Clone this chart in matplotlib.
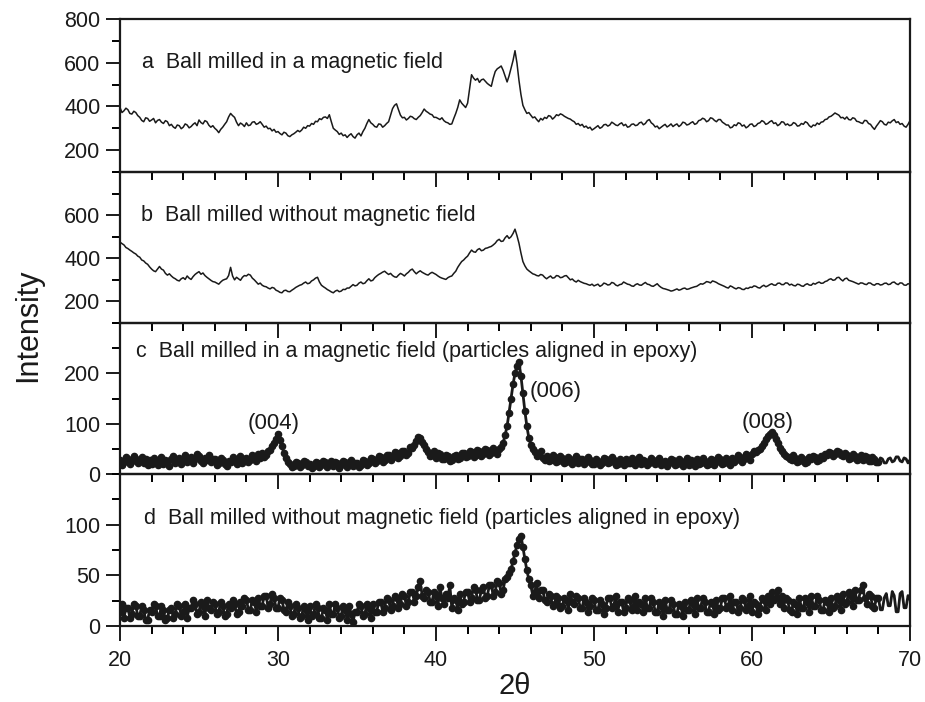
import numpy as np
import matplotlib.pyplot as plt
from matplotlib.ticker import MultipleLocator

plt.rcParams['font.family'] = ['Liberation Sans', 'DejaVu Sans']

# 2-theta sampling grid, 0.125 deg steps from 20 to 70 (one row = one degree)
two_theta = np.arange(20, 70.0001, 0.125)

# a: ball milled in a magnetic field
int_a = [
    395, 372, 380, 392, 385, 368, 365, 378,
    372, 358, 350, 336, 330, 348, 345, 332,
    338, 345, 325, 336, 340, 328, 322, 335,
    330, 312, 318, 306, 300, 315, 312, 298,
    305, 320, 315, 302, 308, 318, 325, 312,
    338, 326, 320, 335, 330, 314, 305, 312,
    300, 292, 280, 295, 305, 318, 330, 352,
    368, 358, 350, 328, 312, 324, 318, 308,
    325, 312, 315, 328, 330, 318, 322, 330,
    318, 305, 310, 298, 300, 288, 295, 282,
    285, 276, 270, 282, 278, 266, 262, 270,
    275, 282, 290, 284, 292, 305, 300, 312,
    310, 322, 318, 332, 330, 344, 340, 350,
    352, 345, 362, 330, 300, 292, 285, 272,
    278, 266, 270, 258, 268, 275, 262, 255,
    270, 278, 265, 285, 300, 322, 340, 325,
    318, 308, 305, 320, 318, 305, 312, 322,
    330, 360, 390, 405, 412, 385, 360, 348,
    350, 338, 345, 355, 352, 344, 340, 350,
    358, 372, 388, 378, 372, 365, 362, 350,
    350, 345, 340, 348, 335, 328, 325, 318,
    320, 345, 368, 395, 430, 415, 405, 395,
    415, 480, 545, 530, 520, 528, 510, 522,
    525, 515, 505, 498, 492, 530, 560, 572,
    578, 585, 565, 538, 512, 540, 575, 610,
    655, 598, 520, 455, 405, 385, 368, 372,
    360, 348, 352, 340, 330, 345, 338, 350,
    345, 358, 355, 342, 350, 362, 358, 366,
    362, 355, 350, 345, 342, 335, 330, 318,
    322, 312, 318, 305, 310, 300, 305, 292,
    298, 305, 312, 300, 305, 316, 318, 310,
    315, 328, 322, 315, 312, 320, 325, 312,
    318, 305, 308, 318, 320, 312, 315, 325,
    328, 316, 322, 335, 340, 325, 318, 306,
    310, 298, 305, 312, 318, 306, 312, 320,
    308, 315, 320, 308, 315, 328, 325, 315,
    318, 325, 330, 318, 322, 335, 338, 346,
    342, 330, 335, 348, 345, 336, 330, 340,
    340, 328, 322, 315, 315, 302, 305, 316,
    312, 325, 322, 310, 315, 302, 308, 318,
    320, 308, 312, 322, 325, 335, 330, 318,
    322, 330, 335, 322, 325, 312, 318, 330,
    328, 315, 320, 312, 315, 326, 322, 310,
    312, 322, 318, 330, 325, 312, 305, 315,
    312, 324, 318, 328, 330, 340, 342, 352,
    355, 362, 370, 365, 360, 348, 350, 342,
    352, 340, 338, 348, 345, 332, 330, 325,
    322, 336, 335, 322, 318, 305, 295, 310,
    322, 335, 330, 318, 315, 328, 325, 334,
    340, 326, 330, 318, 322, 310, 305, 318,
    335,
]

# b: ball milled without magnetic field
int_b = [
    475, 468, 462, 450, 445, 438, 432, 425,
    420, 410, 405, 392, 388, 378, 372, 360,
    350, 342, 338, 350, 362, 350, 345, 330,
    322, 328, 318, 310, 305, 298, 295, 305,
    310, 302, 318, 308, 302, 315, 325, 332,
    338, 326, 332, 320, 312, 305, 298, 292,
    290, 285, 280, 290, 298, 302, 305, 320,
    358, 318, 300, 312, 305, 298, 312, 320,
    318, 326, 322, 308, 300, 290, 280, 285,
    275, 270, 268, 262, 258, 265, 262, 252,
    248, 242, 240, 250, 252, 246, 245, 252,
    258, 265, 270, 275, 278, 285, 290, 282,
    285, 295, 300, 308, 312, 290, 275, 268,
    262, 255, 250, 244, 240, 248, 252, 245,
    248, 256, 255, 262, 262, 270, 278, 272,
    275, 285, 290, 282, 285, 296, 305, 295,
    298, 310, 318, 325, 330, 336, 340, 332,
    325, 330, 320, 314, 312, 322, 330, 325,
    318, 328, 335, 345, 350, 338, 328, 336,
    342, 335, 330, 325, 322, 330, 335, 330,
    325, 318, 312, 308, 305, 302, 310, 315,
    318, 330, 340, 358, 372, 385, 392, 402,
    410, 425, 438, 430, 428, 440, 445, 435,
    438, 446, 448, 452, 455, 462, 470, 482,
    488, 478, 480, 495, 505, 492, 500, 515,
    535, 505, 470, 425, 385, 365, 350, 342,
    335, 328, 325, 320, 318, 325, 322, 312,
    305, 312, 318, 308, 310, 320, 318, 310,
    312, 318, 320, 310, 300, 304, 295, 290,
    298, 292, 288, 284, 282, 278, 275, 280,
    272, 276, 280, 270, 275, 285, 282, 276,
    278, 288, 285, 276, 272, 278, 280, 290,
    285, 280, 278, 272, 270, 278, 282, 276,
    275, 282, 288, 280, 278, 272, 270, 276,
    282, 272, 265, 260, 258, 255, 252, 248,
    250, 254, 258, 252, 255, 260, 262, 256,
    258, 262, 265, 268, 270, 276, 282, 280,
    285, 292, 290, 286, 295, 292, 288, 282,
    278, 274, 270, 265, 262, 272, 268, 262,
    258, 264, 262, 256, 255, 262, 260, 266,
    265, 272, 270, 264, 262, 270, 275, 268,
    272, 278, 282, 276, 275, 284, 285, 278,
    278, 286, 285, 276, 280, 274, 272, 280,
    278, 272, 270, 278, 282, 276, 275, 284,
    280, 286, 290, 284, 285, 292, 295, 302,
    305, 298, 300, 310, 312, 302, 295, 305,
    308, 298, 295, 292, 288, 284, 280, 286,
    285, 280, 278, 286, 285, 278, 275, 282,
    282, 276, 278, 284, 285, 278, 280, 288,
    290, 282, 278, 286, 285, 276, 275, 282,
    280,
]

# c: ball milled in a magnetic field, particles aligned in epoxy
int_c = [
    28, 18, 24, 34, 30, 20, 26, 36,
    30, 22, 26, 34, 22, 30, 18, 28,
    20, 32, 26, 18, 24, 34, 20, 28,
    26, 16, 30, 36, 22, 28, 32, 20,
    28, 38, 24, 30, 34, 22, 30, 40,
    36, 26, 22, 32, 28, 38, 24, 30,
    30, 18, 22, 32, 28, 20, 16, 26,
    24, 34, 30, 20, 26, 36, 22, 30,
    32, 24, 28, 38, 34, 26, 40, 32,
    42, 34, 38, 46, 48, 56, 62, 70,
    80, 68, 55, 42, 32, 24, 20, 14,
    16, 24, 22, 14, 18, 26, 24, 16,
    20, 12, 16, 24, 22, 14, 18, 26,
    24, 14, 20, 26, 16, 24, 22, 12,
    18, 26, 24, 14, 20, 28, 16, 22,
    22, 14, 18, 28, 26, 18, 22, 32,
    30, 22, 26, 36, 34, 24, 28, 38,
    38, 28, 34, 44, 42, 32, 36, 46,
    46, 38, 42, 54, 52, 58, 66, 74,
    72, 64, 58, 50, 44, 36, 38, 46,
    32, 42, 40, 30, 30, 38, 36, 26,
    28, 36, 38, 30, 32, 42, 42, 34,
    36, 46, 44, 34, 38, 48, 46, 36,
    40, 50, 48, 38, 42, 52, 46, 40,
    50, 54, 62, 78, 95, 122, 150, 178,
    200, 215, 222, 195, 160, 125, 95, 72,
    58, 50, 44, 36, 38, 46, 32, 28,
    36, 26, 28, 38, 34, 24, 26, 36,
    32, 22, 24, 34, 30, 20, 26, 36,
    22, 30, 30, 20, 24, 34, 28, 20,
    20, 30, 26, 18, 22, 32, 30, 22,
    24, 34, 28, 18, 20, 30, 26, 18,
    30, 22, 22, 32, 28, 18, 24, 34,
    20, 28, 26, 18, 22, 32, 28, 20,
    24, 32, 18, 24, 26, 16, 22, 30,
    28, 18, 20, 30, 26, 16, 22, 32,
    18, 28, 24, 16, 30, 20, 22, 32,
    26, 18, 20, 30, 28, 18, 24, 34,
    30, 20, 22, 32, 26, 18, 32, 24,
    28, 38, 34, 24, 30, 40, 36, 28,
    40, 46, 44, 48, 50, 56, 62, 70,
    76, 80, 84, 78, 70, 62, 52, 46,
    40, 36, 34, 30, 28, 38, 32, 24,
    26, 34, 30, 22, 24, 34, 30, 36,
    34, 26, 28, 36, 32, 40, 38, 44,
    42, 36, 40, 46, 44, 38, 36, 42,
    38, 30, 32, 40, 36, 28, 30, 38,
    28, 36, 34, 26, 26, 34, 30, 24,
    24, 32, 30, 22, 22, 30, 32, 24,
    26, 34, 34, 26, 24, 32, 30, 22,
    28,
]

# d: ball milled without magnetic field, particles aligned in epoxy
int_d = [
    14, 22, 8, 18, 18, 8, 12, 22,
    20, 10, 10, 20, 16, 6, 6, 16,
    14, 22, 20, 10, 10, 20, 16, 6,
    8, 16, 18, 8, 12, 22, 20, 10,
    14, 22, 8, 18, 18, 26, 22, 12,
    14, 24, 20, 10, 26, 18, 16, 24,
    22, 12, 14, 24, 20, 10, 12, 22,
    18, 26, 22, 12, 14, 24, 20, 28,
    26, 16, 16, 26, 24, 14, 28, 20,
    20, 30, 30, 18, 22, 32, 28, 18,
    18, 28, 26, 16, 14, 24, 20, 10,
    12, 22, 18, 8, 10, 20, 16, 6,
    20, 10, 12, 22, 18, 8, 8, 18,
    16, 6, 22, 12, 12, 22, 18, 8,
    10, 20, 16, 6, 20, 12, 4, 14,
    14, 22, 20, 10, 12, 22, 18, 8,
    22, 14, 14, 24, 24, 14, 18, 28,
    26, 16, 20, 30, 28, 18, 22, 32,
    30, 20, 24, 34, 34, 24, 30, 38,
    44, 30, 28, 36, 34, 24, 24, 34,
    30, 20, 38, 28, 22, 32, 28, 40,
    18, 28, 26, 16, 32, 22, 24, 34,
    34, 24, 28, 38, 36, 26, 26, 36,
    38, 28, 30, 40, 40, 30, 34, 44,
    42, 32, 36, 46, 48, 52, 56, 64,
    72, 80, 86, 89, 78, 66, 55, 46,
    40, 30, 34, 42, 28, 36, 36, 26,
    24, 32, 30, 20, 22, 30, 28, 18,
    20, 28, 26, 16, 32, 24, 22, 30,
    28, 18, 18, 28, 24, 14, 20, 28,
    26, 16, 16, 26, 22, 12, 18, 28,
    28, 18, 20, 30, 14, 24, 24, 14,
    18, 28, 26, 16, 20, 30, 16, 24,
    22, 14, 28, 18, 18, 28, 24, 14,
    14, 24, 20, 10, 26, 16, 16, 26,
    22, 12, 12, 22, 20, 10, 24, 16,
    16, 26, 22, 12, 28, 18, 18, 28,
    24, 14, 14, 24, 22, 12, 26, 16,
    18, 28, 28, 18, 20, 30, 16, 24,
    24, 14, 18, 28, 26, 16, 20, 30,
    14, 24, 22, 12, 18, 28, 26, 16,
    30, 22, 34, 26, 28, 36, 22, 30,
    18, 28, 26, 16, 14, 24, 22, 12,
    28, 18, 18, 28, 24, 14, 30, 20,
    20, 30, 26, 16, 16, 26, 24, 14,
    28, 18, 20, 30, 26, 16, 32, 22,
    24, 34, 30, 20, 36, 26, 26, 36,
    40, 28, 22, 32, 30, 20, 18, 28,
    28, 16, 16, 28, 32, 20, 20, 34,
    30, 14, 14, 32, 34, 18, 18, 30,
    26,
]

labels = [
    "a  Ball milled in a magnetic field",
    "b  Ball milled without magnetic field",
    "c  Ball milled in a magnetic field (particles aligned in epoxy)",
    "d  Ball milled without magnetic field (particles aligned in epoxy)",
]
label_pos = [(21.4, 603), (21.35, 600), (21.0, 243), (21.55, 106)]
peak_names = ["(004)", "(006)", "(008)"]
peak_pos = [(29.75, 100, "center"), (45.95, 164, "left"), (61.0, 103, "center")]

W, H = 925, 702
fig = plt.figure(figsize=(W / 100, H / 100), dpi=100)

# panel edges in pixels from the top of the figure
edges = [19, 172, 323, 474, 626]
ylims = [(100, 800), (100, 800), (0, 300), (0, 150)]
ymajor = [200, 200, 100, 50]
yticks = [[200, 400, 600, 800], [200, 400, 600], [0, 100, 200], [0, 50, 100]]
series = [int_a, int_b, int_c, int_d]
ink = "#1a1a1a"

x_left, x_right = 120, 910
axes = []
for i in range(4):
    top, bot = edges[i], edges[i + 1]
    ax = fig.add_axes([x_left / W, 1 - bot / H, (x_right - x_left) / W, (bot - top) / H])
    axes.append(ax)
    y = series[i]
    if i < 2:
        ax.plot(two_theta, y, color=ink, lw=1.1)
    else:
        dots = list(np.where(two_theta <= 68.0)[0])
        ax.plot(two_theta, y, color=ink, lw=2.0, marker="o", ms=4.5,
                markevery=dots, mec=ink, mfc=ink)
    ax.set_xlim(20, 70)
    ax.set_ylim(*ylims[i])
    ax.set_yticks(yticks[i])
    ax.yaxis.set_minor_locator(MultipleLocator(ymajor[i] / 2))
    ax.xaxis.set_major_locator(MultipleLocator(10))
    ax.xaxis.set_minor_locator(MultipleLocator(2))
    ax.tick_params(axis="both", which="major", direction="out", length=11, width=1.4,
                   labelsize=15.5, colors=ink, pad=4)
    ax.tick_params(axis="both", which="minor", direction="out", length=6, width=1.4)
    ax.tick_params(axis="y", which="major", length=10)
    ax.tick_params(axis="x", labelbottom=(i == 3), pad=6)
    for s in ax.spines.values():
        s.set_linewidth(1.6)
        s.set_color(ink)
    ax.patch.set_alpha(0)
    lx, ly = label_pos[i]
    ax.text(lx, ly, labels[i], fontsize=15.5, color=ink, va="center", ha="left")

for name, (px, py, ha) in zip(peak_names, peak_pos):
    axes[2].text(px, py, name, fontsize=16, color=ink, va="center", ha=ha)

fig.text(515 / W, 1 - 686 / H, "2θ", fontsize=21, color=ink, va="center", ha="center")
fig.text(28 / W, 1 - 325 / H, "Intensity", rotation=90, fontsize=22,
         color=ink, va="center", ha="center")

fig.savefig("out.png", dpi=100)
